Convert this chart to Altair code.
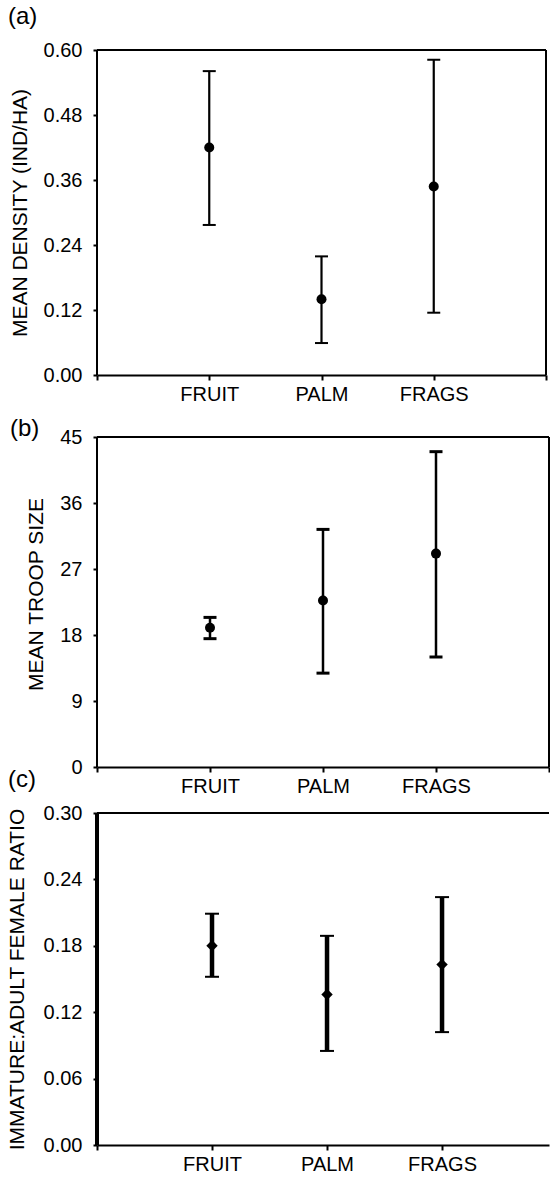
import altair as alt
import pandas as pd

FONT = "Liberation Sans"

categories = ["FRUIT", "PALM", "FRAGS"]
positions = [1, 2, 3]

density_mean = [0.420, 0.140, 0.348]
density_low = [0.277, 0.059, 0.115]
density_high = [0.561, 0.219, 0.582]

troop_mean = [19.0, 22.7, 29.1]
troop_low = [17.5, 12.8, 15.0]
troop_high = [20.4, 32.4, 43.0]

ratio_mean = [0.180, 0.136, 0.163]
ratio_low = [0.152, 0.085, 0.102]
ratio_high = [0.209, 0.189, 0.224]

density_ticks = [0.0, 0.12, 0.24, 0.36, 0.48, 0.60]
troop_ticks = [0, 9, 18, 27, 36, 45]
ratio_ticks = [0.0, 0.06, 0.12, 0.18, 0.24, 0.30]

label_expr = "[''," + ",".join("'%s'" % c for c in categories) + ",''][datum.value] || ''"


def panel(tag, ytitle, mean, low, high, yticks, yfmt, width, xmax, frame_h, top_pad,
          title_pad, title_offset, title_dx, rule_w, cap_w, cap_size, left_w, right_w,
          shape, pt_size):
    ymax = yticks[-1]
    height = frame_h + top_pad
    ytop = ymax * height / frame_h
    df = pd.DataFrame({"pos": positions, "cat": categories, "mean": mean,
                       "low": low, "high": high})
    frame = pd.DataFrame({"pos": [0, 0, xmax], "pos2": [0, xmax, xmax],
                          "low": [0, ymax, 0], "high": [ymax, ymax, ymax],
                          "w": [left_w, 2, right_w]})
    xscale = alt.Scale(domain=[0, xmax], nice=False, zero=False)
    yscale = alt.Scale(domain=[0, ytop], nice=False)
    xaxis = alt.Axis(values=[v for v in range(5) if v <= xmax], labelExpr=label_expr,
                     title=None, grid=False, tickSize=5, labelPadding=4,
                     labelFontSize=20, domainWidth=2, tickWidth=2)
    yaxis = alt.Axis(values=yticks, format=yfmt, title=ytitle, domain=False, grid=False,
                     tickSize=4, labelPadding=11, labelFontSize=20, titleFontSize=21,
                     titleFontWeight="normal", titlePadding=title_pad, tickWidth=2)

    def X(field):
        return alt.X(field, type="quantitative", scale=xscale, axis=xaxis, title=None)

    def Y(field):
        return alt.Y(field, type="quantitative", scale=yscale, axis=yaxis, title=ytitle)

    base = alt.Chart(df)
    bars = base.mark_rule(color="black", strokeWidth=rule_w).encode(
        x=X("pos"), y=Y("low"), y2="high:Q")
    cap_lo = base.mark_tick(orient="horizontal", color="black", size=cap_size,
                            thickness=cap_w, opacity=1).encode(x=X("pos"), y=Y("low"))
    cap_hi = base.mark_tick(orient="horizontal", color="black", size=cap_size,
                            thickness=cap_w, opacity=1).encode(x=X("pos"), y=Y("high"))
    pts = base.mark_point(filled=True, shape=shape, size=pt_size, color="black",
                          opacity=1).encode(x=X("pos"), y=Y("mean"))
    border = alt.Chart(frame).mark_rule(color="black").encode(
        x=X("pos"), x2="pos2:Q", y=Y("low"), y2="high:Q",
        strokeWidth=alt.StrokeWidth("w:Q", scale=None))
    return alt.layer(bars, border, cap_lo, cap_hi, pts).properties(
        width=width, height=height,
        title=alt.TitleParams(text=tag, anchor="start", frame="group", dx=title_dx,
                              offset=title_offset, fontSize=24, fontWeight="normal",
                              font=FONT, color="black"))


pa = panel("(a)", "MEAN DENSITY (IND/HA)", density_mean, density_low, density_high,
           density_ticks, ".2f", 449, 4, 325, 0, 13, 11, -89, 2.2, 2, 13, 2, 2,
           "circle", 100)
pb = panel("(b)", "MEAN TROOP SIZE", troop_mean, troop_low, troop_high,
           troop_ticks, "d", 452, 4, 330, 16, 13, -20, -87, 2.5, 3, 13, 2, 2,
           "circle", 100)
pc = panel("(c)", "IMMATURE:ADULT FEMALE RATIO", ratio_mean, ratio_low, ratio_high,
           ratio_ticks, ".2f", 452, 3.93, 332, 0, 16, 11, -89, 4.5, 2, 14, 4, 0,
           "diamond", 130)

chart = alt.vconcat(pa, pb, pc, spacing=46, bounds="flush").properties(
    padding={"left": 6, "top": 5, "right": 0, "bottom": 0}
).configure_view(strokeOpacity=0).configure_axis(
    labelFont=FONT, titleFont=FONT, labelColor="black", titleColor="black",
    domainColor="black", tickColor="black"
).configure_title(font=FONT)

chart.save("out.html", embed_options={"renderer": "svg", "actions": False})
